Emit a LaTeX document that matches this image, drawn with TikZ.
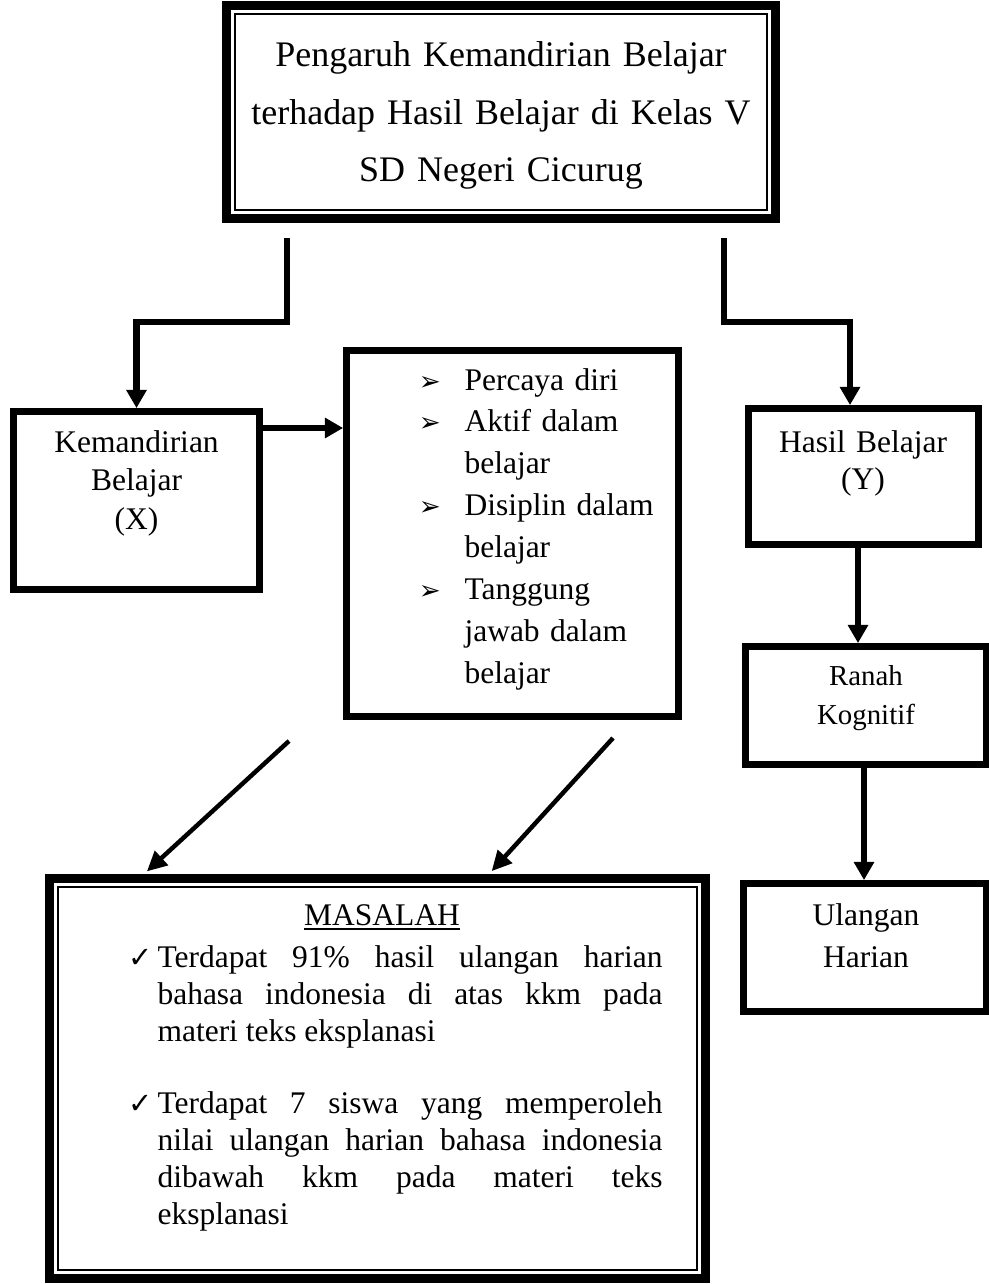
\documentclass[tikz,border=0pt]{standalone}
\usepackage{fontspec}
\setmainfont{Liberation Serif}
\newfontfamily\symfont{DejaVu Sans}
\usetikzlibrary{arrows.meta}
\newcommand\arrbul{\leavevmode\llap{{\symfont\fontsize{10}{10}\selectfont ➢}\hspace{9pt}}}
\newcommand\chkbul{\leavevmode\llap{{\symfont\fontsize{11}{11}\selectfont ✓}\hspace{2pt}}}
\begin{document}
\begin{tikzpicture}[x=0.381pt,y=-0.381pt,
  box/.style={draw, line width=2.6pt, inner sep=0pt, rectangle},
  dbl/.style={draw, line width=3.4pt, inner sep=0pt, rectangle},
  thinline/.style={line width=0.76pt},
  arr/.style={line width=2.3pt, -{Triangle[width=7.4pt,length=6.9pt]}},
  darr/.style={line width=1.7pt, -{Triangle[width=7.2pt,length=7.6pt]}},
  txt/.style={inner sep=0pt, font=\fontsize{12}{14.4}\selectfont},
]
\useasboundingbox (0,0) rectangle (988,1284);
\fill[white] (0,0) rectangle (988,1284);

% boxes
\node[dbl, minimum width=549*0.381pt, minimum height=213*0.381pt] (T) at (501,112) {};
\draw[thinline] ([shift={(13,13)}]T.north west) rectangle ([shift={(-13,-13)}]T.south east);

\node[box, minimum width=246*0.381pt, minimum height=178*0.381pt] (K) at (136.5,500.5) {};
\node[box, minimum width=332*0.381pt, minimum height=366*0.381pt] (L) at (512.5,533.5) {};
\node[box, minimum width=230*0.381pt, minimum height=136*0.381pt] (H) at (863.5,476.5) {};
\node[box, minimum width=241*0.381pt, minimum height=118*0.381pt] (R) at (866,705.5) {};
\node[box, minimum width=243*0.381pt, minimum height=128*0.381pt] (U) at (865,947.5) {};

\node[dbl, minimum width=656*0.381pt, minimum height=400*0.381pt] (M) at (377.5,1078.5) {};
\draw[thinline] ([shift={(13,13)}]M.north west) rectangle ([shift={(-13,-13)}]M.south east);

% texts
\node[txt, font=\fontsize{13.7}{21.9}\selectfont, align=center, text width=540*0.381pt, anchor=base] (Tt) at (501,67)
  {Pengaruh Kemandirian Belajar\\terhadap Hasil Belajar di Kelas V\\SD Negeri Cicurug};

\node[txt, font=\fontsize{12}{14.7}\selectfont, align=center, text width=230*0.381pt, anchor=base] (Kt) at (136.5,452)
  {Kemandirian\\Belajar\\(X)};

\node[txt, font=\fontsize{12}{16}\selectfont, align=left, text width=215*0.381pt, anchor=base west] (Lt) at (464,390)
  {\arrbul Percaya diri\\
   \arrbul Aktif dalam\\
   belajar\\
   \arrbul Disiplin dalam\\
   belajar\\
   \arrbul Tanggung\\
   jawab dalam\\
   belajar};

\node[txt, font=\fontsize{12}{14.1}\selectfont, align=center, text width=220*0.381pt, anchor=base] (Ht) at (863,452)
  {Hasil Belajar\\(Y)};

\node[txt, font=\fontsize{11}{14.9}\selectfont, align=center, text width=220*0.381pt, anchor=base] (Rt) at (866,685)
  {Ranah\\Kognitif};

\node[txt, font=\fontsize{12}{16}\selectfont, align=center, text width=220*0.381pt, anchor=base] (Ut) at (866,925)
  {Ulangan\\Harian};

\node[txt, anchor=base] (Mt) at (382,925) {\underline{MASALAH}};

\node[txt, font=\fontsize{12}{14.1}\selectfont, align=justify, text width=192.4pt, anchor=base west] (M1) at (157,967)
  {\hyphenpenalty=10000\exhyphenpenalty=10000%
   \chkbul Terdapat 91\% hasil ulangan harian\linebreak
   bahasa indonesia di atas kkm pada\linebreak
   materi teks eksplanasi};

\node[txt, font=\fontsize{12}{14.1}\selectfont, align=justify, text width=192.4pt, anchor=base west] (M2) at (157,1113)
  {\hyphenpenalty=10000\exhyphenpenalty=10000%
   \chkbul Terdapat 7 siswa yang memperoleh\linebreak
   nilai ulangan harian bahasa indonesia\linebreak
   dibawah kkm pada materi teks\linebreak
   eksplanasi};

% connectors
\coordinate (tk) at (287,238);
\coordinate (bL) at (287,322);
\coordinate (th) at (724,238);
\coordinate (bR) at (724,322);
\coordinate (hx) at (850,0);
\coordinate (ky) at (0,428);
\coordinate (c1) at (858,0);
\coordinate (c2) at (864,0);
\coordinate (d1s) at (289,741);
\coordinate (d1x) at (144,0);
\coordinate (d2s) at (613,738);
\coordinate (d2x) at (489,0);

\draw[arr] (tk) -- (bL) -| (K.north);
\draw[arr] (th) -- (bR) -| (hx |- H.north);
\draw[arr] (K.east |- ky) -- (L.west |- ky);
\draw[arr] (c1 |- H.south) -- (c1 |- R.north);
\draw[arr] (c2 |- R.south) -- (c2 |- U.north);
\draw[darr, shorten >=1.5pt] (d1s) -- (d1x |- M.north);
\draw[darr, shorten >=1.5pt] (d2s) -- (d2x |- M.north);
\end{tikzpicture}
\end{document}
